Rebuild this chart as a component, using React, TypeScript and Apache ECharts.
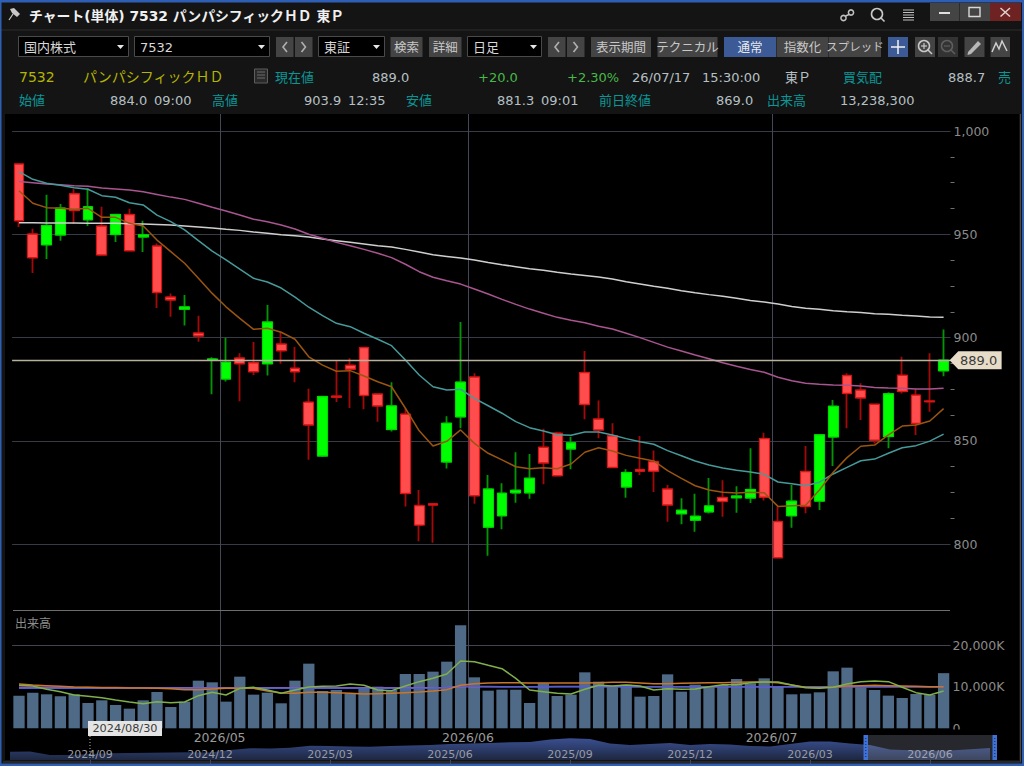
import React, { useEffect, useRef } from "react";
import * as echarts from "echarts";

const categories = [
  "2026/04/09","2026/04/10","2026/04/13","2026/04/14","2026/04/15","2026/04/16","2026/04/17","2026/04/20","2026/04/21","2026/04/22","2026/04/23","2026/04/24","2026/04/27","2026/04/28","2026/04/30",
  "2026/05/01","2026/05/07","2026/05/08","2026/05/11","2026/05/12","2026/05/13","2026/05/14","2026/05/15","2026/05/18","2026/05/19","2026/05/20","2026/05/21","2026/05/22","2026/05/25","2026/05/26","2026/05/27","2026/05/28","2026/05/29",
  "2026/06/01","2026/06/02","2026/06/03","2026/06/04","2026/06/05","2026/06/08","2026/06/09","2026/06/10","2026/06/11","2026/06/12","2026/06/15","2026/06/16","2026/06/17","2026/06/18","2026/06/19","2026/06/22","2026/06/23","2026/06/24","2026/06/25","2026/06/26","2026/06/29","2026/06/30",
  "2026/07/01","2026/07/02","2026/07/03","2026/07/06","2026/07/07","2026/07/08","2026/07/09","2026/07/10","2026/07/13","2026/07/14","2026/07/15","2026/07/16","2026/07/17",
];
const monthStarts = ["2026/05/01", "2026/06/01", "2026/07/01"];

const opens = [984.0,950.1,945.0,949.7,969.6,957.1,954.0,950.0,959.5,948.8,944.3,919.6,913.8,902.2,889.2,880.0,890.1,887.8,887.4,896.8,885.1,868.7,842.8,871.6,886.6,895.1,872.6,855.6,862.9,818.6,819.5,839.8,861.7,880.9,808.3,813.8,824.9,824.9,846.9,853.7,846.1,883.0,860.5,852.4,827.7,836.1,839.9,826.7,814.8,811.7,815.7,822.5,822.5,822.4,851.1,810.9,813.8,835.1,820.9,851.9,881.6,874.6,867.7,852.2,881.7,872.1,869.3,884.0];
const closes = [956.6,938.7,954.2,962.6,961.6,963.3,940.0,959.5,942.1,949.7,921.9,918.3,914.8,900.8,889.6,888.0,887.4,883.5,907.5,893.7,883.5,857.8,871.4,871.2,884.7,872.1,867.0,866.9,824.6,809.3,819.0,858.5,878.4,823.5,826.7,824.6,826.1,831.9,839.4,833.2,849.0,867.7,855.3,837.2,834.6,835.4,835.4,819.0,816.4,813.5,818.5,820.8,823.3,826.4,822.8,793.5,820.8,818.3,852.9,866.7,873.0,870.8,850.4,872.8,874.0,858.5,869.0,889.0];
const lows = [953.5,931.3,938.0,946.9,955.0,954.0,940.0,946.3,942.1,941.4,914.3,910.1,905.9,898.0,872.6,878.8,869.2,881.9,881.6,887.4,878.4,840.9,842.2,868.8,865.9,865.3,859.3,854.6,818.2,801.4,800.7,836.7,856.1,819.6,794.4,807.2,820.1,822.0,829.0,833.2,836.3,860.5,851.3,837.2,822.5,833.5,825.3,810.9,809.6,806.0,814.8,813.3,815.2,819.9,821.1,793.5,808.0,815.0,816.6,837.8,856.1,860.1,848.8,846.4,873.0,852.9,864.1,881.3];
const highs = [984.0,952.7,969.2,964.7,971.8,972.3,963.3,959.5,962.4,956.6,945.6,921.4,920.6,910.6,890.5,899.9,892.4,897.9,915.8,902.9,895.4,875.3,871.4,888.7,890.0,895.6,873.0,878.4,865.8,826.2,819.5,861.9,907.5,882.7,833.5,829.5,844.5,843.7,855.9,854.4,852.0,893.5,869.6,858.5,836.3,852.4,845.3,828.7,822.2,824.4,832.0,830.9,828.0,846.4,854.0,818.2,828.7,847.5,852.9,869.8,882.7,877.9,867.7,873.5,890.7,875.0,892.4,903.9];

const maShort = [971.1,965.0,962.9,962.6,962.1,962.6,958.2,958.2,955.3,954.0,947.2,941.6,936.0,928.7,921.4,914.9,909.3,904.0,904.5,902.6,899.2,890.7,886.7,883.7,884.0,881.4,878.6,876.2,865.8,854.9,847.5,849.8,855.3,848.8,844.0,840.8,837.5,836.5,837.0,836.5,838.8,844.5,846.7,845.1,843.0,841.6,840.3,835.6,831.9,828.3,826.2,825.1,824.8,825.1,824.9,818.3,818.6,818.8,826.2,834.8,841.9,847.4,848.0,852.9,857.2,857.7,859.6,865.6];
const maMid = [980.3,976.6,974.7,973.7,972.5,971.8,968.7,967.9,965.3,964.2,959.3,956.1,952.1,946.9,941.9,937.6,933.1,928.7,926.9,924.0,919.6,914.7,910.6,906.9,905.3,902.1,899.2,896.1,889.2,881.9,876.2,874.6,875.0,870.6,867.0,863.4,859.3,856.4,854.8,853.0,852.7,854.3,854.3,852.9,851.1,849.6,848.4,845.3,842.8,840.3,838.3,836.9,835.8,834.9,833.8,830.1,829.3,828.3,830.0,834.0,837.2,840.4,841.2,844.0,846.7,847.7,849.9,853.3];
const maLong = [975.6,975.0,974.3,974.0,973.5,973.2,972.4,971.9,971.4,970.6,969.3,968.0,966.9,965.0,963.1,961.3,959.3,957.3,956.1,954.5,952.6,950.0,948.1,946.1,944.5,942.7,940.8,938.7,935.5,931.9,929.2,927.5,925.9,923.5,921.1,918.5,916.1,913.8,911.8,909.8,908.4,907.2,905.5,904.2,902.1,900.0,897.7,895.4,893.5,891.6,889.8,887.8,886.1,884.6,883.2,880.8,879.1,877.9,877.4,877.1,876.9,876.6,875.9,875.6,875.5,875.1,875.1,875.5];
const maYear = [955.6,955.6,955.5,955.5,955.5,955.3,955.3,955.3,955.1,955.0,954.8,954.5,954.0,953.5,953.0,952.4,951.9,951.1,950.5,949.8,949.3,948.7,947.7,946.9,946.1,945.3,944.5,943.8,942.7,941.4,940.1,939.3,938.5,937.6,936.4,935.3,934.3,933.3,932.6,931.6,930.8,930.1,929.3,928.4,927.0,925.9,924.8,923.9,922.7,921.7,920.8,920.0,919.0,918.0,917.2,916.3,915.1,914.2,913.7,913.0,912.5,912.2,911.6,911.3,910.8,910.4,910.0,909.8];

const volumes = [7840,8560,8160,7680,8160,6080,6720,5600,4720,6720,8720,5120,6400,11440,11040,6400,12400,8080,8560,6000,11440,15520,8960,9200,8400,9440,10000,9200,13040,13040,13600,16000,24720,12240,9040,9280,9280,6080,10800,7760,8080,13440,11200,10000,10480,7600,7760,12960,8800,10480,10000,10400,11840,10800,12000,10000,8160,8320,8640,13680,14560,9840,9200,7840,7280,8240,8000,13238];
const volMaShort = [10320,10160,9360,8800,8000,7680,7360,6800,6320,5920,6400,6160,6320,7840,8640,8000,9600,9840,9200,8400,9200,9920,10080,10160,10640,10320,9200,9040,10160,11200,12000,13040,16160,16000,15120,14320,12000,9200,8800,8400,8240,9360,10320,10160,10400,10160,9200,9520,9360,9440,10000,10480,10480,10960,11120,11120,10400,9760,9600,9840,10640,11200,11360,11200,9840,8560,8000,8960];
const volMaMid = [10640,10400,10240,10080,9920,9840,9760,9760,9680,9680,9600,9520,9280,9280,9440,9600,9600,9600,8960,8480,8400,8640,8640,8560,8400,8240,8320,8400,8560,8720,8960,9280,10320,10720,10880,10960,10960,10880,10880,10880,10880,10880,10960,11040,11040,10880,10720,10720,10800,10880,10960,10960,11040,11120,11120,10960,10400,9840,9760,9920,10160,10240,10320,10240,10160,10080,10000,10000];
const volMaLong = [9640,9640,9640,9640,9640,9620,9620,9620,9600,9600,9600,9600,9600,9600,9600,9600,9600,9600,9600,9600,9600,9600,9600,9600,9600,9600,9600,9600,9620,9640,9680,9760,10160,10080,10040,10000,10000,10000,10000,10000,10000,10000,10000,10000,10000,10000,10000,10000,10000,10000,10000,10000,10000,10000,10000,10000,10000,10000,10000,10000,10000,10000,10000,10000,10000,10000,10000,10000];
const volMaYear = [9840,9840,9840,9840,9800,9800,9800,9800,9760,9760,9760,9760,9760,9760,9760,9760,9760,9760,9760,9760,9760,9760,9760,9760,9760,9760,9760,9760,9760,9760,9760,9800,9960,10000,10000,10000,10000,10000,10000,10040,10040,10040,10040,10040,10040,10000,10000,10000,10000,10000,10000,10000,10000,10000,10000,10000,10000,10000,10000,10000,10000,10000,10000,10000,10000,10000,10000,10000];

const navCategories = ["2024/07/01","2024/07/16","2024/08/01","2024/08/16","2024/09/01","2024/09/16","2024/10/01","2024/10/16","2024/11/01","2024/11/16","2024/12/01","2024/12/16","2025/01/01","2025/01/16","2025/02/01","2025/02/16","2025/03/01","2025/03/16","2025/04/01","2025/04/16","2025/05/01","2025/05/16","2025/06/01","2025/06/16","2025/07/01","2025/07/16","2025/08/01","2025/08/16","2025/09/01","2025/09/16","2025/10/01","2025/10/16","2025/11/01","2025/11/16","2025/12/01","2025/12/16","2026/01/01","2026/01/16","2026/02/01","2026/02/16","2026/03/01","2026/03/16","2026/04/01","2026/04/16","2026/05/01","2026/05/16","2026/06/01","2026/06/16","2026/07/01","2026/07/16"];
const navValues = [8.3,8.5,5,5,6,6.7,7,7.3,7.5,7.7,7.5,10,11.7,11.5,12.3,14.3,14,13.5,13.3,14,14.5,15,16,16.5,17,17.7,18,20.5,21.7,21,16.5,15,16,17,15,16,15.5,14,13.5,16,18.5,18.5,16.5,15,10.5,9.7,9.3,9.5,10.7,12];

const lastPrice = 889.0;
const volumeLabelValues = [0, 10000, 20000];

const FONT = '"DejaVu Sans","Noto Sans CJK JP",sans-serif';
const TEAL = "#0b9696";
const VALUE = "#b6c0c4";

function txt(text: string, x: number, y: number, fill: string, size = 13, extra: any = {}) {
  return {
    type: "text", x, y, silent: true, z: extra.z ?? 50,
    style: {
      text, fill, font: `${extra.weight ?? "normal"} ${size}px ${FONT}`,
      align: extra.align ?? "left", verticalAlign: "middle",
    },
  };
}
function box(x: number, y: number, w: number, h: number, fill: string, stroke?: string, z = 40) {
  return {
    type: "rect", silent: true, z,
    shape: { x, y, width: w, height: h },
    style: { fill, stroke: stroke ?? "none", lineWidth: stroke ? 1 : 0 },
  };
}
function seg(x1: number, y1: number, x2: number, y2: number, stroke: string, lineWidth = 1, z = 50) {
  return { type: "line", silent: true, z, shape: { x1, y1, x2, y2 }, style: { stroke, lineWidth } };
}
function poly(points: number[][], stroke: string, lineWidth = 1.5, z = 50) {
  return { type: "polyline", silent: true, z, shape: { points }, style: { stroke, lineWidth, fill: "none" } };
}
function tri(x: number, y: number, fill = "#e8e8e8") {
  return { type: "polygon", silent: true, z: 50, shape: { points: [[x, y], [x + 7, y], [x + 3.5, y + 4]] }, style: { fill } };
}
function ring(cx: number, cy: number, r: number, stroke: string, lineWidth = 1.5) {
  return { type: "circle", silent: true, z: 50, shape: { cx, cy, r }, style: { stroke, lineWidth, fill: "none" } };
}
function selectBox(x: number, w: number, label: string, size = 13) {
  return [
    box(x + 0.5, 36.5, w, 20, "#000000", "#4a4a4a"),
    txt(label, x + 6, 47, "#d8d8d8", size),
    tri(x + w - 11, 45),
  ];
}
function btn(x: number, w: number, label: string, fill = "#444444", color = "#c8c8c8", size = 12.5) {
  return [box(x, 37, w, 20, fill), txt(label, x + w / 2, 47, color, size, { align: "center" })];
}
function navPair(x: number) {
  return [
    box(x, 37, 17.5, 20, "#444444"),
    box(x + 19, 37, 17.5, 20, "#444444"),
    poly([[x + 11, 42], [x + 7, 47], [x + 11, 52]], "#b0b0b0", 1.6),
    poly([[x + 25.5, 42], [x + 29.5, 47], [x + 25.5, 52]], "#b0b0b0", 1.6),
  ];
}

function chrome(): any[] {
  return [
    box(0, 0, 1024, 766, "#141414", undefined, -20),
    box(5, 114, 1014, 646, "#000000", undefined, -19),
    box(0, 0, 1024, 2.5, "#2f5fb5", undefined, 60),
    box(0, 0, 1.5, 766, "#2f5fb5", undefined, 60),
    box(1022, 0, 2, 766, "#2f5fb5", undefined, 60),
    box(0, 763.5, 1024, 2.5, "#2f5fb5", undefined, 60),
    seg(0, 30, 1024, 30, "#2c2c2c"),
    seg(1020.5, 114, 1020.5, 762, "#4a4a4a"),
    seg(3, 762, 1021, 762, "#3a3a3a"),

    // title bar
    { type: "polygon", silent: true, z: 50, shape: { points: [[10, 9], [14, 8], [20, 14], [17, 17], [12, 13]] }, style: { fill: "#c8c8c8" } },
    seg(13, 14, 9, 20, "#c8c8c8", 1.2),
    txt("チャート(単体) 7532 パンパシフィックＨＤ 東Ｐ", 29, 16, "#f0f0f0", 13.85, { weight: "bold" }),
    ring(843.5, 18, 2.6, "#c0c0c0"),
    ring(851, 12.5, 2.6, "#c0c0c0"),
    seg(845.5, 16, 849, 14.5, "#c0c0c0", 1.5),
    ring(877, 14, 5.5, "#c8c8c8", 1.6),
    seg(881, 18, 884.5, 21.5, "#c8c8c8", 1.6),
    seg(903, 10, 914, 10, "#c0c0c0"),
    seg(903, 12.5, 914, 12.5, "#c0c0c0"),
    seg(903, 15, 914, 15, "#c0c0c0"),
    seg(903, 17.5, 914, 17.5, "#c0c0c0"),
    seg(903, 20, 914, 20, "#c0c0c0"),
    box(930, 3, 29.5, 18, "#444444"),
    box(960, 3, 30, 18, "#444444"),
    box(990, 3, 31, 18, "#6e2222"),
    seg(939, 13, 950, 13, "#e0e0e0", 2),
    { type: "rect", silent: true, z: 50, shape: { x: 969, y: 7.5, width: 11, height: 9 }, style: { fill: "none", stroke: "#d8d8d8", lineWidth: 1.4 } },
    seg(1000.5, 8, 1010, 16.5, "#e0d0d0", 1.5),
    seg(1010, 8, 1000.5, 16.5, "#e0d0d0", 1.5),

    // toolbar
    ...selectBox(18, 110, "国内株式"),
    ...selectBox(134, 135, "7532"),
    ...navPair(276),
    ...selectBox(318, 66, "東証"),
    ...btn(390.5, 32, "検索"),
    ...btn(429, 32.5, "詳細"),
    ...selectBox(467, 74, "日足"),
    ...navPair(548),
    ...btn(591, 60, "表示期間"),
    ...btn(657.5, 60, "テクニカル"),
    ...btn(724, 52, "通常", "#3c5a96", "#e8e8e8"),
    ...btn(776.5, 52, "指数化"),
    ...btn(829, 52, "スプレッド", "#444444", "#c8c8c8", 11.5),
    box(888, 37, 20, 20, "#3c5a96"),
    seg(891, 47, 905, 47, "#f0f0f0", 1.5),
    seg(898, 40, 898, 54, "#f0f0f0", 1.5),
    box(915, 37, 20, 20, "#444444"),
    ring(924, 46, 5.5, "#c8c8c8"),
    seg(921, 46, 927, 46, "#c8c8c8", 1.2),
    seg(924, 43, 924, 49, "#c8c8c8", 1.2),
    seg(928, 50, 932, 54, "#c8c8c8", 1.6),
    box(938, 37, 20, 20, "#333333"),
    ring(947, 46, 5.5, "#5e5e5e"),
    seg(944, 46, 950, 46, "#5e5e5e", 1.2),
    seg(951, 50, 955, 54, "#5e5e5e", 1.6),
    box(964.5, 37, 20, 20, "#444444"),
    { type: "polygon", silent: true, z: 50, shape: { points: [[968, 52], [978, 41], [981, 44], [971, 54], [967.5, 55]] }, style: { fill: "#b8b8b8" } },
    box(990.5, 37, 19.5, 20, "#444444"),
    poly([[992, 52], [996, 43], [999, 49], [1002, 41], [1007, 51]], "#d0d0d0", 1.5),

    // quote rows
    txt("7532", 19, 77, "#b5b500", 14),
    txt("パンパシフィックＨＤ", 83, 77, "#b5b500", 14),
    { type: "rect", silent: true, z: 50, shape: { x: 254.5, y: 69, width: 13, height: 14 }, style: { fill: "#2a2a2a", stroke: "#5c5c5c", lineWidth: 1 } },
    seg(257, 72, 265, 72, "#6c6c6c"), seg(257, 75, 265, 75, "#6c6c6c"), seg(257, 78, 265, 78, "#6c6c6c"),
    txt("現在値", 275, 77, TEAL, 13),
    txt("889.0", 372, 77, VALUE, 13),
    txt("+20.0", 478, 77, "#48b848", 13),
    txt("+2.30%", 567, 77, "#48b848", 13),
    txt("26/07/17", 632, 77, VALUE, 13),
    txt("15:30:00", 702, 77, VALUE, 13),
    txt("東Ｐ", 785, 77, VALUE, 13),
    txt("買気配", 843, 77, TEAL, 13),
    txt("888.7", 948, 77, VALUE, 13),
    txt("売", 998, 77, TEAL, 13),
    txt("始値", 19, 100, TEAL, 13),
    txt("884.0", 110, 100, VALUE, 13),
    txt("09:00", 154, 100, VALUE, 13),
    txt("高値", 212, 100, TEAL, 13),
    txt("903.9", 304, 100, VALUE, 13),
    txt("12:35", 348, 100, VALUE, 13),
    txt("安値", 406, 100, TEAL, 13),
    txt("881.3", 497, 100, VALUE, 13),
    txt("09:01", 541, 100, VALUE, 13),
    txt("前日終値", 599, 100, TEAL, 13),
    txt("869.0", 716, 100, VALUE, 13),
    txt("出来高", 767, 100, TEAL, 13),
    txt("13,238,300", 840, 100, VALUE, 13),

    // chart furniture
    seg(13, 610.5, 950, 610.5, "#6e6e6e", 1.2),
    txt("出来高", 15, 623.5, "#8e8e8e", 12),
    box(950, 729.5, 69, 6, "#000000", undefined, 45),

    // navigator furniture
    box(864, 735, 133, 25, "rgba(190,200,225,0.2)", undefined, 55),
    box(863.5, 735, 4.5, 25, "#3f72d8", undefined, 56),
    box(992.5, 735, 4.5, 25, "#3f72d8", undefined, 56),
    { type: "line", silent: true, z: 57, shape: { x1: 865.8, y1: 738, x2: 865.8, y2: 757 }, style: { stroke: "#16244a", lineWidth: 1, lineDash: [1, 2] } },
    { type: "line", silent: true, z: 57, shape: { x1: 994.8, y1: 738, x2: 994.8, y2: 757 }, style: { stroke: "#16244a", lineWidth: 1, lineDash: [1, 2] } },
    { type: "line", silent: true, z: 58, shape: { x1: 90, y1: 736, x2: 90, y2: 760 }, style: { stroke: "#b8b8b8", lineWidth: 1, lineDash: [1, 2] } },
    box(88, 721, 74, 15, "#e4e4e4", undefined, 59),
    txt("2024/08/30", 125, 728.5, "#3a3a3a", 11.3, { align: "center", z: 60 }),
  ];
}

function lineSeries(name: string, data: number[], color: string, axis: number, width = 1.5) {
  return {
    name, type: "line", data, xAxisIndex: axis, yAxisIndex: axis, z: 4,
    symbol: "none", showSymbol: false, clip: false, silent: true,
    lineStyle: { color, width },
  };
}

export default function App() {
  const ref = useRef<HTMLDivElement>(null);
  useEffect(() => {
    document.body.style.margin = "0";
    document.body.style.background = "#141414";
    const chart = echarts.init(ref.current!, undefined, { renderer: "svg" });
    const wickData = categories.map((_, i) => [opens[i], closes[i], lows[i], highs[i]]);
    const bodyData = categories.map((_, i) => [
      opens[i], closes[i], Math.min(opens[i], closes[i]), Math.max(opens[i], closes[i]),
    ]);
    const gridBase = { left: 12.1, width: 938.4 };
    const isMonthStart = (_i: number, v: string) => monthStarts.includes(v);
    chart.setOption({
      animation: false,
      backgroundColor: "#141414",
      textStyle: { fontFamily: FONT },
      graphic: { elements: chrome() },
      grid: [
        { ...gridBase, top: 131, height: 413.2 },
        { ...gridBase, top: 645, height: 83.3 },
        { left: 13.2, width: 938.4, top: 114, height: 614.3 },
        { left: 10, width: 980, top: 736, height: 24 },
      ],
      xAxis: [
        { type: "category", gridIndex: 0, data: categories, boundaryGap: true, axisLine: { show: false }, axisTick: { show: false }, axisLabel: { show: false }, splitLine: { show: false } },
        { type: "category", gridIndex: 1, data: categories, boundaryGap: true, axisLine: { show: false }, axisTick: { show: false }, axisLabel: { show: false }, splitLine: { show: false } },
        {
          type: "category", gridIndex: 2, data: categories, boundaryGap: true,
          axisLine: { show: false }, axisTick: { show: false },
          axisLabel: {
            interval: isMonthStart, formatter: (v: string) => v.slice(0, 7),
            color: "#9a9a9a", fontSize: 12.5, fontFamily: FONT, margin: 3, padding: [0, 15, 0, 0],
          },
          splitLine: { show: true, showMaxLine: false, interval: isMonthStart, lineStyle: { color: "#434757", width: 1 } },
        },
        {
          type: "category", gridIndex: 3, data: navCategories, boundaryGap: false, position: "top",
          axisLine: { show: false },
          axisTick: { show: true, inside: true, length: 11, interval: (i: number) => (i + 2) % 6 === 0, lineStyle: { color: "#4a4a50" } },
          axisLabel: {
            inside: true, margin: 12.5, interval: (i: number) => (i + 2) % 6 === 0,
            formatter: (v: string) => v.slice(0, 7), color: "#9a9aa2", fontSize: 11, fontFamily: FONT,
          },
          splitLine: { show: false },
          z: 6,
        },
      ],
      yAxis: [
        {
          type: "value", gridIndex: 0, position: "right", min: 800, max: 1000, interval: 50,
          axisLine: { show: false }, axisTick: { show: false },
          minorTick: { show: true, splitNumber: 4, length: 4, lineStyle: { color: "#707070" } },
          axisLabel: { color: "#8a8a8a", fontSize: 12.5, fontFamily: FONT, margin: 3, formatter: (v: number) => v.toLocaleString("en-US") },
          splitLine: { show: true, lineStyle: { color: "#383a46", width: 1 } },
        },
        {
          type: "value", gridIndex: 1, position: "right", min: 0, max: 20000, interval: 20000,
          axisLine: { show: false }, axisTick: { show: false },
          axisLabel: {
            customValues: volumeLabelValues, color: "#8a8a8a", fontSize: 12.5, fontFamily: FONT, margin: 2,
            formatter: (v: number) => (v === 0 ? "0" : v.toLocaleString("en-US") + "K"),
          },
          splitLine: { show: true, showMinLine: false, lineStyle: { color: "#44444e", width: 1 } },
        },
        { type: "value", gridIndex: 2, min: 0, max: 1, show: false, splitLine: { show: false } },
        { type: "value", gridIndex: 3, min: 0, max: 24, show: false, splitLine: { show: false } },
      ],
      series: [
        {
          name: "wick", type: "candlestick", xAxisIndex: 0, yAxisIndex: 0, data: wickData, barWidth: 8, clip: false, z: 2, silent: true,
          itemStyle: { color: "#009800", color0: "#a60808", borderColor: "#009800", borderColor0: "#a60808", borderWidth: 1.8 },
        },
        {
          name: "body", type: "candlestick", xAxisIndex: 0, yAxisIndex: 0, data: bodyData, barWidth: 10.2, clip: false, z: 3, silent: true,
          itemStyle: { color: "#00ff00", color0: "#ff4d4d", borderColor: "#00dc00", borderColor0: "#d81414", borderWidth: 1.2 },
          markLine: {
            silent: true, symbol: "none", animation: false, label: { show: false },
            lineStyle: { color: "#b8af9c", width: 1.4, type: "solid" },
            data: [{ yAxis: lastPrice }],
          },
          markPoint: {
            silent: true, animation: false,
            symbol: "path://M0 9 L9 0 L54 0 L54 18 L9 18 Z",
            symbolKeepAspect: false, symbolSize: [52, 18], symbolOffset: [32, 0],
            itemStyle: { color: "#e6dcc8" },
            label: { show: true, position: "inside", offset: [3, 0], formatter: lastPrice.toFixed(1), color: "#3a3a3a", fontSize: 13, fontFamily: FONT },
            data: [{ coord: [categories[categories.length - 1], lastPrice] }],
          },
        },
        lineSeries("ma200", maYear, "#cfcfcf", 0),
        lineSeries("ma75", maLong, "#a85590", 0),
        lineSeries("ma25", maMid, "#479a9a", 0),
        lineSeries("ma5", maShort, "#9a5510", 0),
        {
          name: "volume", type: "bar", xAxisIndex: 1, yAxisIndex: 1, data: volumes, barWidth: 11.3, clip: false, z: 3, silent: true,
          itemStyle: { color: "#4e6a86" },
        },
        lineSeries("volMa200", volMaYear, "#a858a8", 1),
        lineSeries("volMa75", volMaLong, "#4f5fd0", 1),
        lineSeries("volMa25", volMaMid, "#c8762a", 1),
        lineSeries("volMa5", volMaShort, "#7fb04a", 1),
        {
          name: "nav", type: "line", xAxisIndex: 3, yAxisIndex: 3, data: navValues, symbol: "none", showSymbol: false, silent: true, z: 3,
          lineStyle: { width: 0 },
          areaStyle: {
            opacity: 1,
            color: new echarts.graphic.LinearGradient(0, 0, 0, 1, [
              { offset: 0, color: "#3a4f90" },
              { offset: 1, color: "#1d2740" },
            ]),
          },
        },
      ],
    });
    return () => chart.dispose();
  }, []);
  return <div ref={ref} style={{ width: 1024, height: 766 }} />;
}
